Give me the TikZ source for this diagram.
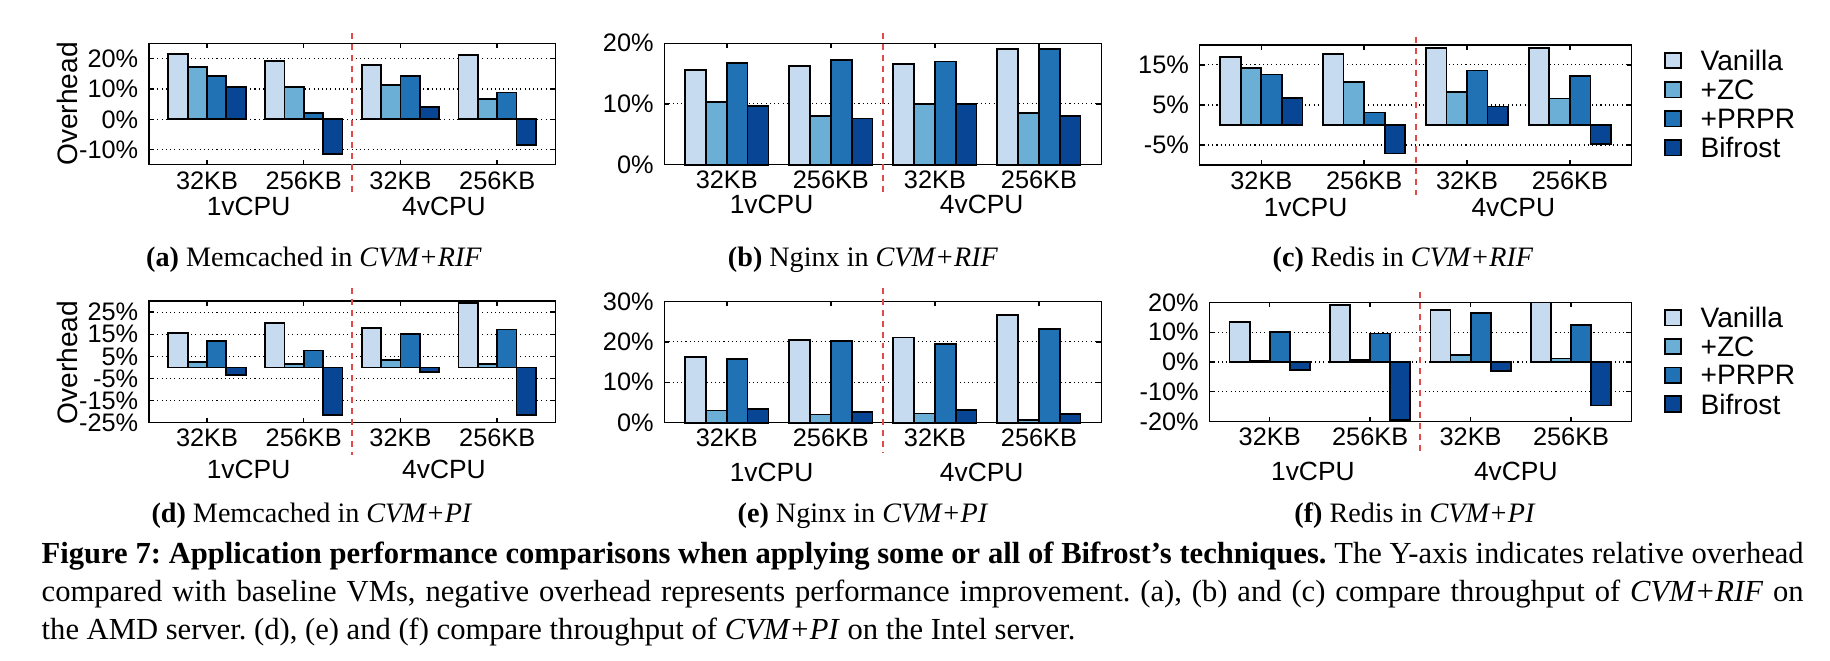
\documentclass[tikz,border=0pt]{standalone}
\usepackage{fontspec}
\setmainfont{Liberation Serif}
\newfontfamily\plotfont{Liberation Sans}
\usetikzlibrary{positioning}

\definecolor{cvan}{RGB}{198,219,239}
\definecolor{czc}{RGB}{107,174,214}
\definecolor{cprpr}{RGB}{33,113,181}
\definecolor{cbif}{RGB}{8,69,148}
\definecolor{sepred}{RGB}{226,74,74}

% #1 name, #2 scope options, #3 ymin, #4 ymax, #5 y tics, #6 bar values, #7 vCPU offset
\newcommand{\chart}[7]{%
  \begin{scope}[#2]
    % dotted grid with y tics
    \foreach \yt in {#5} {
      \draw[gridline] (-0.6,\yt) -- (3.6,\yt);
      \draw[frameline] (-0.6,\yt) -- ++(0.05cm,0);
      \draw[frameline] (3.6,\yt) -- ++(-0.05cm,0);
      \node[ylab,xshift=-0.1cm] (#1-y\yt) at (-0.6,\yt) {\yt\%};
    }
    % four bars per group
    \foreach \va/\vb/\vc/\vd [count=\g from 0] in {#6} {
      \draw[databar,fill=cvan] (\g-0.4,0) rectangle (\g-0.2,\va);
      \draw[databar,fill=czc] (\g-0.2,0) rectangle (\g,\vb);
      \draw[databar,fill=cprpr] (\g,0) rectangle (\g+0.2,\vc);
      \draw[databar,fill=cbif] (\g+0.2,0) rectangle (\g+0.4,\vd);
    }
    \draw[frameline] (-0.6,#3) rectangle (3.6,#4);
    \foreach \kb [count=\g from 0] in {32KB,256KB,32KB,256KB} {
      \draw[frameline] (\g,#3) -- ++(0,0.05cm);
      \draw[frameline] (\g,#4) -- ++(0,-0.05cm);
      \node[xlab,yshift=-0.155cm] (#1-x\g) at (\g,#3) {\kb};
    }
    \node[vlab,yshift=-#7] (#1-c1) at (0.43,#3) {1vCPU};
    \node[vlab,yshift=-#7] (#1-c4) at (2.45,#3) {4vCPU};
  \end{scope}}

\begin{document}
\begin{tikzpicture}[x=0.01cm,y=-0.01cm]
  \tikzstyle{gridline}=[line width=0.3pt,dash pattern=on 0.3pt off 0.9pt]
  \tikzstyle{frameline}=[line width=0.4pt]
  \tikzstyle{databar}=[draw=black,line width=0.5pt]
  \tikzstyle{ylab}=[anchor=east,inner sep=0pt,font=\plotfont\fontsize{7.2}{8}\selectfont]
  \tikzstyle{xlab}=[inner sep=0pt,font=\plotfont\fontsize{7.2}{8}\selectfont]
  \tikzstyle{vlab}=[inner sep=0pt,font=\plotfont\fontsize{7.5}{8}\selectfont]
  \tikzstyle{big}=[inner sep=0pt,font=\plotfont\fontsize{8}{9}\selectfont]
  \tikzstyle{legbox}=[draw,line width=0.5pt,minimum width=0.16cm,minimum height=0.156cm,inner sep=0pt]
  \tikzstyle{sub}=[anchor=base,inner sep=0pt,font=\fontsize{8}{9.6}\selectfont]
  \tikzstyle{sep}=[sepred,line width=0.5pt,dash pattern=on 1.7pt off 1.4pt]
  \useasboundingbox (0,0) rectangle (1830,661);

  % top row: CVM+RIF
  \chart{a}{shift={(207,119.3)},x=0.9667cm,y=0.0303cm}{-15}{25}{-10,0,10,20}
    {21.6/17.3/14.3/10.6, 19.2/10.6/2.2/-11.5, 17.9/11.4/14.4/4.0, 21.1/6.7/8.8/-8.4}{0.42cm}
  \chart{b}{shift={(726.8,164.7)},x=1.04cm,y=0.0607cm}{0}{20}{0,10,20}
    {15.65/10.3/16.7/9.7, 16.3/8.0/17.2/7.6, 16.6/9.95/17.0/10.05, 19.0/8.5/19.1/8.0}{0.4cm}
  \chart{c}{shift={(1261.3,125)},x=1.028cm,y=0.04cm}{-10}{20}{-5,5,15}
    {16.9/14.2/12.6/6.7, 17.8/10.8/3.1/-7.1, 19.3/8.3/13.6/4.6, 19.2/6.6/12.2/-4.7}{0.42cm}

  % bottom row: CVM+PI
  \chart{d}{shift={(207,367.4)},x=0.9667cm,y=0.0221cm}{-25}{30}{-25,-15,-5,5,15,25}
    {15.7/2.3/12.1/-3.3, 20.2/1.5/7.6/-21.4, 17.7/3.2/15.2/-2.2, 29.1/1.7/17.1/-21.4}{0.47cm}
  \chart{e}{shift={(726.8,422.7)},x=1.04cm,y=0.0404cm}{0}{30}{0,10,20,30}
    {16.2/3.0/15.8/3.4, 20.5/2.0/20.3/2.6, 21.1/2.3/19.5/3.1, 26.6/0.7/23.1/2.1}{0.5cm}
  \chart{f}{shift={(1269.7,362)},x=1.004cm,y=0.02975cm}{-20}{20}{-20,-10,0,10,20}
    {13.5/0.3/10.0/-2.7, 19.2/0.7/9.6/-19.5, 17.5/2.4/16.4/-3.1, 20/1.2/12.4/-14.6}{0.5cm}

  % vCPU separators
  \draw[sep] (352,33) -- (352,195);
  \draw[sep] (883,33) -- (883,195);
  \draw[sep] (1416,37) -- (1416,195);
  \draw[sep] (352,288) -- (352,455);
  \draw[sep] (883,288) -- (883,452);
  \draw[sep] (1420,292) -- (1420,452);

  \node[big,rotate=90] (ova) at (67,104) {Overhead};
  \node[big,rotate=90] (ovd) at (67,362.5) {Overhead};

  % legends
  \foreach \c/\lab [count=\i from 0] in {cvan/Vanilla,czc/+ZC,cprpr/+PRPR,cbif/Bifrost} {
    \node[legbox,fill=\c] (ka\i) at (1673,60.5+29.1*\i) {};
    \node[big,anchor=west,right=0.18cm of ka\i] (ta\i) {\lab};
    \node[legbox,fill=\c] (kb\i) at (1673,317.7+28.8*\i) {};
    \node[big,anchor=west,right=0.18cm of kb\i] (tb\i) {\lab};
  }

  \node[sub] (capa) at (314,267) {\textbf{(a)} Memcached in \textit{CVM+RIF}};
  \node[sub] (capb) at (863,267) {\textbf{(b)} Nginx in \textit{CVM+RIF}};
  \node[sub] (capc) at (1403,267) {\textbf{(c)} Redis in \textit{CVM+RIF}};
  \node[sub] (capd) at (312,522.5) {\textbf{(d)} Memcached in \textit{CVM+PI}};
  \node[sub] (cape) at (863,522.5) {\textbf{(e)} Nginx in \textit{CVM+PI}};
  \node[sub] (capf) at (1415,522.5) {\textbf{(f)} Redis in \textit{CVM+PI}};

  \node[anchor=base west,inner sep=0pt,text width=17.61cm,align=justify,
        font=\fontsize{8.7}{10.8}\selectfont] (fig) at (41,563.3)
    {\frenchspacing\textbf{Figure 7: Application performance comparisons when applying some or all of Bifrost's techniques.} The Y-axis indicates relative overhead\linebreak
     compared with baseline VMs, negative overhead represents performance improvement. (a), (b) and (c) compare throughput of \textit{CVM+RIF} on\linebreak
     the AMD server. (d), (e) and (f) compare throughput of \textit{CVM+PI} on the Intel server.};
\end{tikzpicture}
\end{document}
